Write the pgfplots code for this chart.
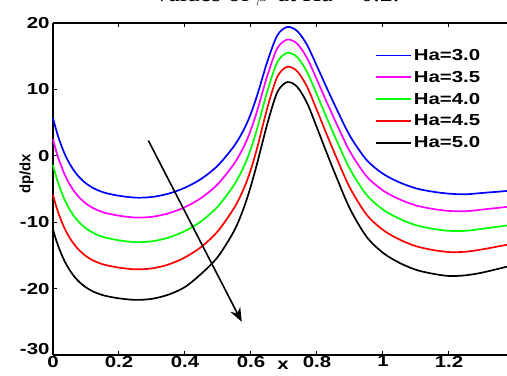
\documentclass[border=0pt]{standalone}
\usepackage{pgfplots}
\pgfplotsset{compat=1.18}
\usepackage{fontspec}
\setmainfont{Liberation Sans}
\newfontfamily\tickfont{Liberation Sans}[FakeStretch=1.28]
\newfontfamily\titlefont{Liberation Serif}
\usetikzlibrary{arrows.meta}
\definecolor{cB}{RGB}{0,0,255}
\definecolor{cM}{RGB}{255,0,255}
\definecolor{cG}{RGB}{0,255,0}
\definecolor{cR}{RGB}{255,0,0}
\definecolor{cK}{RGB}{0,0,0}
\pgfplotstableread{
x b m g r k
0 5.7 2.5 -1.4 -5.9 -11.1
0.01 3.83 0.66 -3.21 -7.65 -12.76
0.02 2.26 -0.88 -4.73 -9.11 -14.14
0.035 0.33 -2.78 -6.59 -10.92 -15.85
0.05 -1.16 -4.25 -8.04 -12.31 -17.17
0.065 -2.33 -5.4 -9.17 -13.4 -18.21
0.08 -3.24 -6.3 -10.05 -14.25 -19.01
0.1 -4.15 -7.19 -10.93 -15.1 -19.82
0.12 -4.81 -7.84 -11.56 -15.72 -20.4
0.14 -5.27 -8.29 -12.01 -16.15 -20.81
0.16 -5.61 -8.62 -12.33 -16.46 -21.1
0.2 -6.02 -9.02 -12.73 -16.84 -21.47
0.25 -6.3 -9.3 -13.0 -17.1 -21.7
0.3 -6.2 -9.19 -12.88 -16.96 -21.54
0.35 -5.7 -8.67 -12.32 -16.37 -20.91
0.4 -4.8 -7.73 -11.33 -15.3 -19.76
0.45 -3.45 -6.32 -9.83 -13.7 -17.74
0.5 -1.45 -4.24 -7.61 -11.33 -15.19
0.55 1.55 -1.11 -4.28 -7.77 -11.2
0.58 4.1 1.55 -1.46 -4.75 -7.6
0.6 6.4 3.95 1.1 -2.02 -4.5
0.62 9.3 6.98 4.31 1.42 -0.9
0.65 14.25 12.14 9.8 7.29 4.9
0.68 18.15 16.21 14.13 11.92 9.6
0.71 19.4 17.5 15.5 13.4 11.1
0.74 18.8 16.89 14.87 12.74 10.39
0.77 16.7 14.73 12.62 10.41 7.95
0.8 13.5 11.44 9.21 6.85 4.23
0.83 10.2 8.05 5.68 3.18 0.39
0.86 7.0 4.76 2.26 -0.38 -3.33
0.9 3.0 0.64 -2.01 -4.83 -7.98
0.95 -0.6 -3.06 -5.85 -8.83 -12.17
1.0 -2.7 -5.22 -8.1 -11.16 -14.61
1.05 -4.0 -6.55 -9.48 -12.61 -16.12
1.1 -4.9 -7.48 -10.45 -13.61 -17.17
1.15 -5.4 -7.99 -10.98 -14.17 -17.75
1.2 -5.7 -8.3 -11.3 -14.5 -18.1
1.25 -5.8 -8.35 -11.3 -14.45 -18.0
1.3 -5.6 -8.1 -11.0 -14.1 -17.6
1.376 -5.3 -7.7 -10.5 -13.4 -16.7
}\data
\begin{document}
\begin{tikzpicture}
\begin{axis}[
  scale only axis, width=454bp, height=332bp,
  xmin=0, xmax=1.376, ymin=-30, ymax=20,
  axis x line=box, axis y line=left,
  axis line style={line width=1.5pt, -},
  x axis line style={-}, y axis line style={-},
  tick align=inside, major tick length=4bp,
  tick style={line width=1pt, black},
  xtick={0,0.2,0.4,0.6,0.8,1,1.2},
  ytick={-20,-10,0,10,20},
  extra y ticks={-30},
  extra y tick style={yticklabel style={yshift=6bp}},
  /pgf/number format/assume math mode=true,
  ticklabel style={font=\tickfont\bfseries\fontsize{16}{18}\selectfont},
  xticklabel style={yshift=2.5bp},
  ylabel={dp/dx},
  ylabel style={font=\bfseries\fontsize{15}{17}\selectfont, at={(axis description cs:-0.035,0.545)}, anchor=south},
  xlabel={x},
  xlabel style={font=\tickfont\bfseries\fontsize{16}{18}\selectfont, at={(axis cs:0.697,-30)}, anchor=base, yshift=-14.3bp},
  legend style={draw=none, fill=none, at={(0.709,0.928)}, anchor=north west, inner sep=0pt,
    row sep=5.3bp, font=\tickfont\bfseries\fontsize{16}{18}\selectfont},
  legend cell align=left,
  every axis plot/.append style={line width=1.7pt, smooth},
  clip=false,
]
\addplot[color=cB, forget plot] table[x=x,y=b] {\data};
\addplot[color=cM, forget plot] table[x=x,y=m] {\data};
\addplot[color=cG, forget plot] table[x=x,y=g] {\data};
\addplot[color=cR, forget plot] table[x=x,y=r] {\data};
\addplot[color=cK, forget plot] table[x=x,y=k] {\data};
\addlegendimage{legend image code/.code={\draw[color=cB, line width=1.7pt] (0bp,0bp) -- (35bp,0bp);}}
\addlegendentry{Ha=3.0}
\addlegendimage{legend image code/.code={\draw[color=cM, line width=1.7pt] (0bp,0bp) -- (35bp,0bp);}}
\addlegendentry{Ha=3.5}
\addlegendimage{legend image code/.code={\draw[color=cG, line width=1.7pt] (0bp,0bp) -- (35bp,0bp);}}
\addlegendentry{Ha=4.0}
\addlegendimage{legend image code/.code={\draw[color=cR, line width=1.7pt] (0bp,0bp) -- (35bp,0bp);}}
\addlegendentry{Ha=4.5}
\addlegendimage{legend image code/.code={\draw[color=cK, line width=1.7pt] (0bp,0bp) -- (35bp,0bp);}}
\addlegendentry{Ha=5.0}
\draw[-{Stealth[length=14bp,width=11bp]}, line width=1.6pt] (axis cs:0.289,2.3) -- (axis cs:0.572,-25);
\node[font=\titlefont\fontsize{26}{28}\selectfont, anchor=base, yshift=21bp] at (axis cs:0.68,20) {values of $\beta$ at Ha = 0.2.};
\end{axis}
\pgfresetboundingbox
\path[use as bounding box] ([shift={(-53bp,-21bp)}]current axis.south west) rectangle ([shift={(0bp,23bp)}]current axis.north east);
\end{tikzpicture}
\end{document}
